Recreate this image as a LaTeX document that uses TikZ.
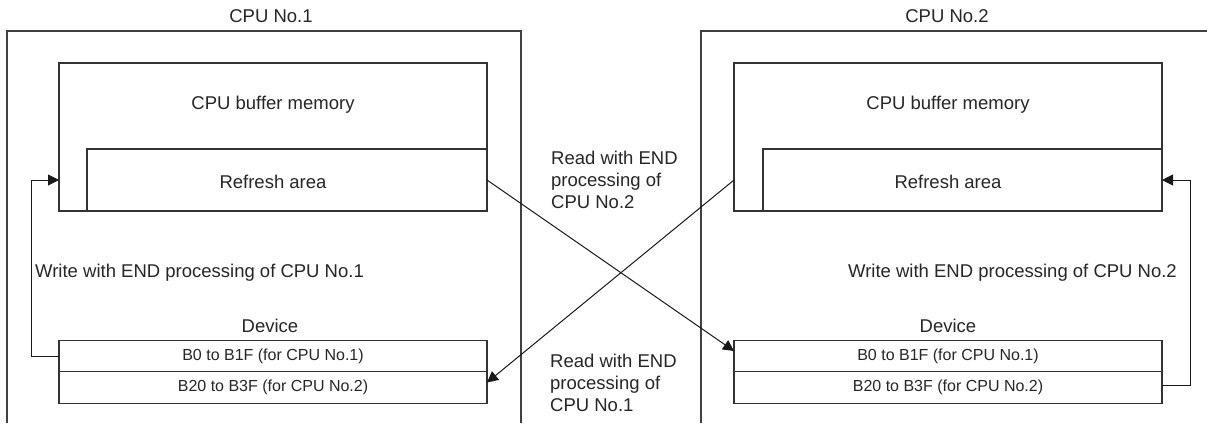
\documentclass[tikz,border=0pt]{standalone}
\usepackage{fontspec}
\setmainfont{Liberation Sans}
\usetikzlibrary{arrows.meta}
\begin{document}
\begin{tikzpicture}[x=1pt,y=-1pt,
  frame/.style={draw=black!75, line width=1.4pt},
  box/.style={draw=black!80, line width=1.4pt, inner sep=0pt, outer sep=0pt},
  lbl/.style={text=black!85, font=\fontsize{18.5}{22}\selectfont, inner sep=0pt},
  rowtxt/.style={text=black!85, font=\fontsize{16}{19}\selectfont},
  conn/.style={draw=black!90, line width=1pt, -{Triangle[length=11pt,width=11pt]}},
]
\useasboundingbox (0,0) rectangle (1207,423);
% outer frames
\draw[frame] (7,423) |- (521,31) -- (521,423);
\draw[frame] (701,423) |- (1207,31);
% left CPU
\node[lbl] (t1) at (271,16) {CPU No.1};
\node[box, minimum width=428pt, minimum height=148pt] (buf1) at (273,137) {};
\node[box, minimum width=400pt, minimum height=62pt] (ref1) at (287,180) {};
\node[lbl] (bm1) at (273,105) {CPU buffer memory};
\node[lbl] (ra1) at (273,182) {Refresh area};
\node[lbl, anchor=west] (w1) at (35,273) {Write with END processing of CPU No.1};
\node[lbl] (dv1) at (270,326) {Device};
\node[box, rowtxt, minimum width=428pt, minimum height=31.5pt] (d1a) at (273,356) {B0 to B1F (for CPU No.1)};
\node[box, rowtxt, minimum width=428pt, minimum height=31.5pt] (d1b) at (273,387.5) {B20 to B3F (for CPU No.2)};
% right CPU
\node[lbl] (t2) at (947,16) {CPU No.2};
\node[box, minimum width=428pt, minimum height=148pt] (buf2) at (948,137) {};
\node[box, minimum width=399pt, minimum height=62pt] (ref2) at (962.5,180) {};
\node[lbl] (bm2) at (948,105) {CPU buffer memory};
\node[lbl] (ra2) at (948,182) {Refresh area};
\node[lbl, anchor=east] (w2) at (1177,273) {Write with END processing of CPU No.2};
\node[lbl] (dv2) at (948,326) {Device};
\node[box, rowtxt, minimum width=428pt, minimum height=31.5pt] (d2a) at (948,356) {B0 to B1F (for CPU No.1)};
\node[box, rowtxt, minimum width=428pt, minimum height=31.5pt] (d2b) at (948,387.5) {B20 to B3F (for CPU No.2)};
% middle labels
\node[lbl, anchor=west, align=left] (rd2) at (551,180) {Read with END\\processing of\\CPU No.2};
\node[lbl, anchor=west, align=left] (rd1) at (550,383) {Read with END\\processing of\\CPU No.1};
% connectors
\draw[conn] (d1a.west) -- ++(-28,0) |- (buf1.west |- ref1.center);
\draw[conn] ([yshift=2pt]d2b.east) -- ++(28,0) |- (ref2.east);
\draw[conn] (ref1.east) -- ([yshift=5pt]d2a.west);
\draw[conn] (buf2.west |- ref2.center) -- ([yshift=5pt]d1b.east);
\end{tikzpicture}
\end{document}
